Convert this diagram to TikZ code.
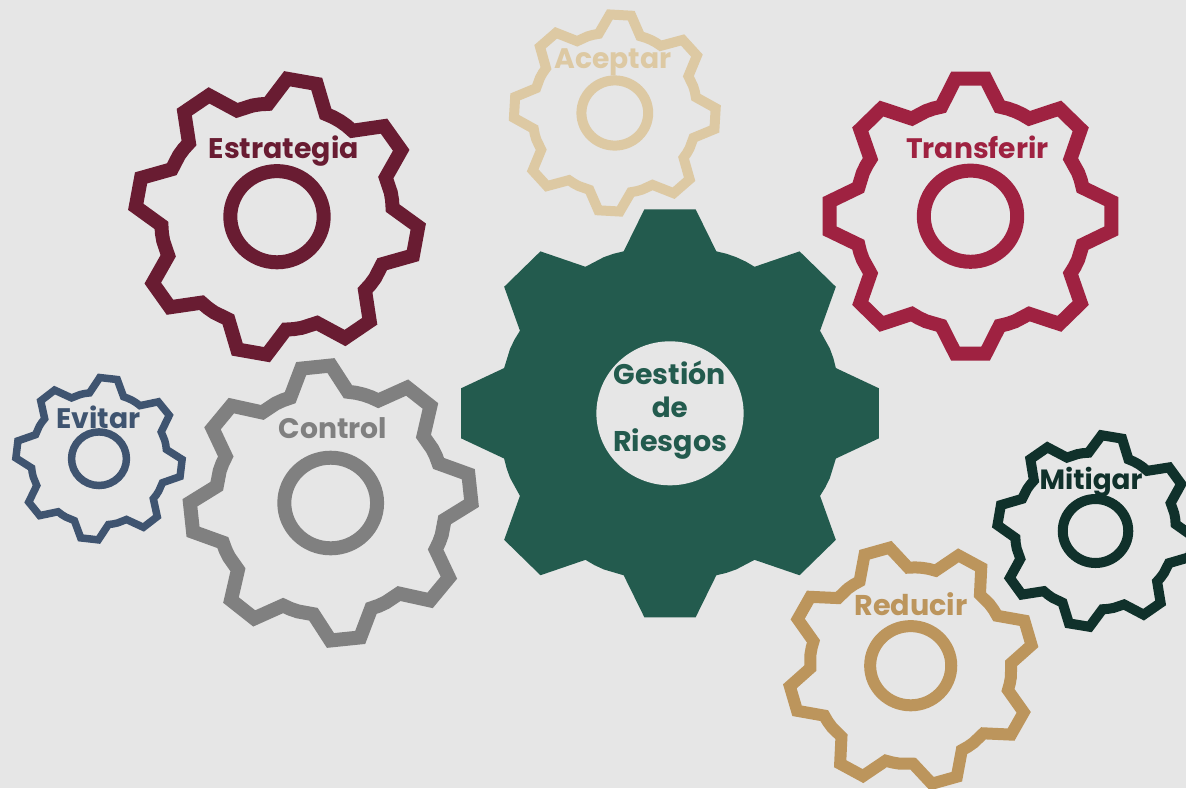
\documentclass[tikz,border=0pt]{standalone}
\usepackage{fontspec}
\usepackage{graphicx}
\setmainfont{Poppins}
\definecolor{bgc}{HTML}{E6E6E6}
\definecolor{verde}{HTML}{235B4E}
\definecolor{vino}{HTML}{691C32}
\definecolor{guinda}{HTML}{9F2241}
\definecolor{arena}{HTML}{DDC9A3}
\definecolor{oro}{HTML}{BC955C}
\definecolor{oscuro}{HTML}{10312B}
\definecolor{azul}{HTML}{3F5470}
\definecolor{gris}{HTML}{808080}
\tikzset{
  label text/.style={anchor=base,inner sep=0pt,outer sep=0pt,font=\bfseries\fontsize{27}{27}\selectfont},
  gear shape/.style={line join=miter,miter limit=10}
}
% \gearat{cx}{cy}{scale}{rotation cw}{options}{tip half angle}{base half angle}
\newcommand{\gearat}[7]{%
  \begin{scope}[shift={(#1,-#2)},xscale=1.024,rotate=-#4,scale=#3]
    \path[gear shape,#5] ({90-(#7+22.5)/2}:168.8)
      \foreach \k in {0,...,7}{
        -- ({90+45*\k-#7}:168.2)
        -- ({90+45*\k-#6}:205.5)
        -- ({90+45*\k+#6}:205.5)
        -- ({90+45*\k+#7}:168.2)
        -- ({90+45*\k+(#7+22.5)/2}:168.8)
        -- ({90+45*\k+22.5}:169)
      } -- cycle;
  \end{scope}%
}
\newcommand{\ringat}[5]{%
  \draw[#5,line width=#4pt] (#1,-#2) ellipse [x radius=#3*1.024,y radius=#3];%
}
\newcommand{\labelat}[6]{%
  \node[label text,text=#4] (#1) at (#2,-#3) {\resizebox{#5pt}{!}{#6}};%
}
\begin{document}
\begin{tikzpicture}[x=1pt,y=1pt]
\useasboundingbox (0,0) rectangle (1186,-788);
\clip (0,0) rectangle (1186,-788);
\fill[bgc] (0,0) rectangle (1186,-788);
% centre gear
\gearat{670}{413.3}{1}{0}{fill=verde}{7}{15.6}
\fill[bgc] (670,-413.3) ellipse [x radius=73.6,y radius=72];
% outline gears
\gearat{277}{216.7}{0.673}{10.2}{draw=vino,line width=14pt}{6.1}{14.6}
\ringat{277}{216.7}{45.6}{14}{vino}
\gearat{970.5}{216.2}{0.673}{0}{draw=guinda,line width=14pt}{6.1}{14.6}
\ringat{970.5}{216.2}{45.6}{14}{guinda}
\gearat{614.8}{113}{0.48}{3.3}{draw=arena,line width=10pt}{6.1}{14.6}
\ringat{614.8}{113}{32.6}{10}{arena}
\gearat{99}{458.7}{0.395}{6.6}{draw=azul,line width=7.5pt}{6.1}{14.6}
\ringat{99}{458.7}{26.8}{7.5}{azul}
\gearat{330.7}{503}{0.669}{-6}{draw=gris,line width=14pt}{6.1}{14.6}
\ringat{330.7}{503}{45.3}{14}{gris}
\gearat{910.7}{665.7}{0.583}{-16}{draw=oro,line width=12pt}{6.1}{14.6}
\ringat{910.7}{665.7}{39.6}{12}{oro}
\gearat{1095.5}{531}{0.467}{9.6}{draw=oscuro,line width=10pt}{6.1}{14.6}
\ringat{1095.5}{531}{32}{10}{oscuro}
% labels
\labelat{estrategia}{283.7}{158.5}{vino}{150}{Estrategia}
\labelat{transferir}{977.5}{158.5}{guinda}{142.5}{Transferir}
\labelat{aceptar}{613}{68.8}{arena}{117}{Aceptar}
\labelat{evitar}{98.3}{428.5}{azul}{84}{Evitar}
\labelat{control}{333}{438.1}{gris}{108.5}{Control}
\labelat{reducir}{911}{615.1}{oro}{113}{Reducir}
\labelat{mitigar}{1091}{489.5}{oscuro}{103}{Mitigar}
\labelat{gestion}{669.6}{384.8}{verde}{112}{Gestión}
\labelat{de}{669.8}{417.5}{verde}{36}{de}
\labelat{riesgos}{670.3}{451.5}{verde}{114}{Riesgos}
\end{tikzpicture}
\end{document}
